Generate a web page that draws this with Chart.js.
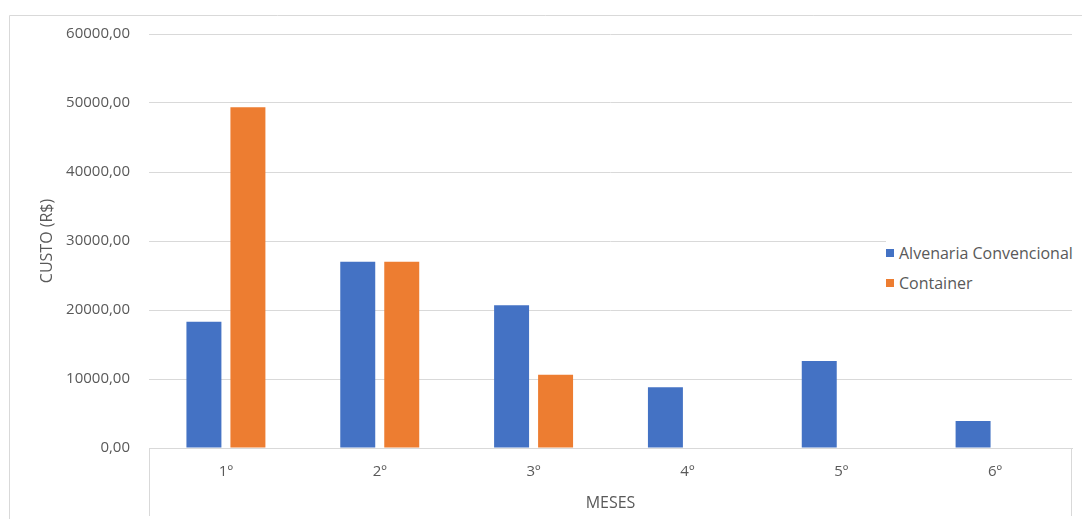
<!DOCTYPE html>
<html lang="pt-BR">
<head>
<meta charset="utf-8">
<title>Custo mensal: Alvenaria Convencional x Container</title>
<script src="https://cdn.jsdelivr.net/npm/chart.js@4/dist/chart.umd.min.js"></script>
<style>
  html, body { margin: 0; padding: 0; background: #ffffff; }
  #wrap { position: relative; width: 1082px; height: 519px; }
  #chart { position: absolute; left: 0; top: 0; }
  #legend {
    position: absolute; left: 886px; top: 238px;
    font-family: "Open Sans", sans-serif; font-size: 16px; color: #595959;
    background: #ffffff;
  }
  #legend .item { display: flex; align-items: center; height: 30px; }
  #legend .sw { width: 8px; height: 8px; margin-right: 5px; }
</style>
</head>
<body>
<div id="wrap">
  <canvas id="chart" width="1082" height="519"></canvas>
  <div id="legend"></div>
</div>
<script>
// Months of the works schedule
const months = ['1º', '2º', '3º', '4º', '5º', '6º'];

// Monthly cost (R$) per construction method
const seriesNames = ['Alvenaria Convencional', 'Container'];
const alvenaria = [18300, 27000, 20700, 8800, 12600, 3900];
const container = [49400, 27000, 10600, null, null, null];

// Value axis ticks
const yTicks = [0, 10000, 20000, 30000, 40000, 50000, 60000];

const colors = ['#4472C4', '#ED7D31'];
const textColor = '#595959';
const lineColor = '#d9d9d9';
const font = { family: '"Open Sans", sans-serif', size: 15 };
const titleFont = { family: '"Open Sans", sans-serif', size: 16 };

const fmt = v => v.toFixed(2).replace('.', ',');

// Outer frame plus the box around the category axis
const framePlugin = {
  id: 'frame',
  afterDraw(chart) {
    const { ctx, chartArea } = chart;
    ctx.save();
    ctx.strokeStyle = lineColor;
    ctx.lineWidth = 1;
    ctx.beginPath();
    ctx.moveTo(9.5, chart.height);
    ctx.lineTo(9.5, 15.5);
    ctx.lineTo(chart.width, 15.5);
    const l = Math.round(chartArea.left) + 0.5;
    const r = Math.round(chartArea.right) - 0.5;
    const b = Math.round(chartArea.bottom);
    ctx.moveTo(l, b);
    ctx.lineTo(l, 516);
    ctx.moveTo(r, b);
    ctx.lineTo(r, 516);
    ctx.stroke();
    ctx.restore();
  }
};

const chart = new Chart(document.getElementById('chart'), {
  type: 'bar',
  data: {
    labels: months,
    datasets: [
      { label: seriesNames[0], data: alvenaria, backgroundColor: colors[0] },
      { label: seriesNames[1], data: container, backgroundColor: colors[1] }
    ]
  },
  options: {
    responsive: false,
    animation: false,
    devicePixelRatio: 1,
    categoryPercentage: 0.572,
    barPercentage: 0.795,
    layout: { padding: { left: 10, right: 10, top: 34, bottom: 0 } },
    plugins: {
      legend: { display: false },
      tooltip: { enabled: false }
    },
    scales: {
      x: {
        grid: { display: false },
        border: { display: true, color: lineColor, width: 1 },
        ticks: { color: textColor, font, padding: 7 },
        title: {
          display: true, text: 'MESES', color: textColor, font: titleFont,
          padding: { top: 0, bottom: 6 }
        },
        afterFit(s) { s.height = 71; s.paddingLeft = 0; s.paddingRight = 0; }
      },
      y: {
        min: 0, max: 60000,
        afterBuildTicks(s) { s.ticks = yTicks.map(v => ({ value: v })); },
        grid: { color: lineColor, lineWidth: 1, drawTicks: false },
        border: { display: false },
        ticks: { color: textColor, font, padding: 19, callback: v => fmt(v) },
        title: {
          display: true, text: 'CUSTO (R$)', color: textColor, font: titleFont,
          padding: { top: 28, bottom: 0 }
        },
        afterFit(s) { s.width = 139; s.paddingTop = 0; s.paddingBottom = 0; }
      }
    }
  },
  plugins: [framePlugin]
});

// Legend beside the bars, built from the datasets
const legendEl = document.getElementById('legend');
chart.data.datasets.forEach(ds => {
  const item = document.createElement('div');
  item.className = 'item';
  const sw = document.createElement('span');
  sw.className = 'sw';
  sw.style.background = ds.backgroundColor;
  const txt = document.createElement('span');
  txt.textContent = ds.label;
  item.appendChild(sw);
  item.appendChild(txt);
  legendEl.appendChild(item);
});
</script>
</body>
</html>
